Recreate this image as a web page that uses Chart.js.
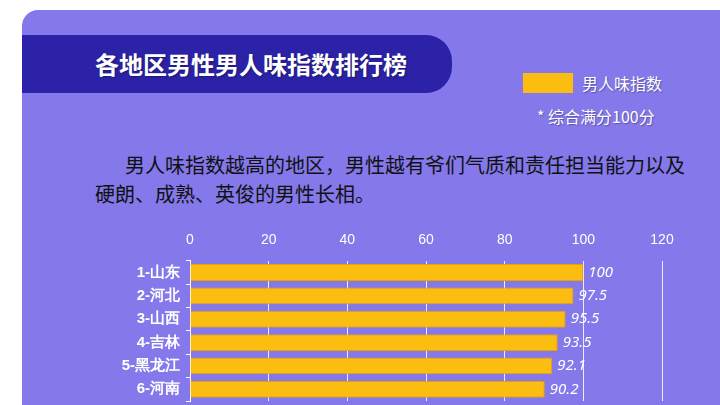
<!DOCTYPE html>
<html>
<head>
<meta charset="utf-8">
<script src="https://cdn.jsdelivr.net/npm/chart.js@4"></script>
<style>
  body { margin: 0; width: 720px; height: 405px; background: #fff; overflow: hidden; font-family: "Noto Sans CJK SC", sans-serif; }
  .panel { position: absolute; left: 22px; top: 10px; width: 720px; height: 420px; background: #8478ea; border-radius: 16px 0 0 0; }
  .banner { position: absolute; left: 22px; top: 35px; width: 430px; height: 58px; background: #2b22a8; border-radius: 0 26px 26px 0; }
  .title { position: absolute; left: 95px; top: 46px; color: #fff; font-size: 24px; font-weight: bold; text-shadow: 1px 1px 2px rgba(0,0,0,.35); }
  .legbox { position: absolute; left: 523px; top: 73px; width: 50px; height: 20px; background: #fbbd0f; }
  .legtxt { position: absolute; left: 582px; top: 71px; color: #fff; font-size: 16px; text-shadow: 1px 1px 1px rgba(0,0,0,.3); }
  .note { position: absolute; left: 537px; top: 104px; color: #fff; font-size: 16px; text-shadow: 1px 1px 1px rgba(0,0,0,.3); }
  .desc { position: absolute; left: 95px; top: 150px; width: 640px; color: #111; font-size: 20px; line-height: 29px; }
  #wrap { position: absolute; left: 0; top: 220px; width: 720px; height: 196px; }
</style>
</head>
<body>
<div class="panel"></div>
<div class="banner"></div>
<div class="title">各地区男性男人味指数排行榜</div>
<div class="legbox"></div>
<div class="legtxt">男人味指数</div>
<div class="note">* 综合满分100分</div>
<div class="desc">&ensp;&ensp;&ensp;男人味指数越高的地区，男性越有爷们气质和责任担当能力以及<br>硬朗、成熟、英俊的男性长相。</div>
<div id="wrap"><canvas id="chart"></canvas></div>
<script>
const regions = ['1-山东', '2-河北', '3-山西', '4-吉林', '5-黑龙江', '6-河南'];
const scores = [100, 97.5, 95.5, 93.5, 92.1, 90.2];
const xTicks = [0, 20, 40, 60, 80, 100, 120];

const valueLabels = {
    id: 'valueLabels',
    afterDatasetsDraw(chart) {
        const ctx = chart.ctx;
        const meta = chart.getDatasetMeta(0);
        ctx.save();
        ctx.font = 'italic 15px "Noto Sans", sans-serif';
        ctx.fillStyle = '#fff';
        ctx.textBaseline = 'middle';
        meta.data.forEach((bar, i) => {
            ctx.fillText(String(scores[i]), bar.x + 5, bar.y);
        });
        ctx.restore();
    }
};

new Chart(document.getElementById('chart'), {
    type: 'bar',
    data: {
        labels: regions,
        datasets: [{
            label: '男人味指数',
            data: scores,
            backgroundColor: '#fbbd0f',
            borderColor: '#e8a200',
            borderWidth: 1,
            categoryPercentage: 0.72,
            barPercentage: 1
        }]
    },
    options: {
        indexAxis: 'y',
        responsive: true,
        maintainAspectRatio: false,
        animation: false,
        layout: { padding: { left: 0, right: 58, top: 0, bottom: 10 } },
        plugins: { legend: { display: false }, tooltip: { enabled: false } },
        scales: {
            x: {
                position: 'top',
                min: 0, max: 120,
                afterBuildTicks(axis) { axis.ticks = xTicks.map(v => ({ value: v })); },
                grid: { color: 'rgba(255,255,255,0.85)', drawTicks: false, lineWidth: 1 },
                border: { display: false },
                ticks: { color: '#fff', font: { size: 14 }, padding: 12 }
            },
            y: {
                grid: { display: true, drawOnChartArea: false, color: '#fff', tickLength: 4 },
                border: { color: '#fff' },
                ticks: { color: '#fff', font: { size: 15, weight: 'bold' }, padding: 6, autoSkip: false },
                afterFit(axis) { axis.width = 190; }
            }
        }
    },
    plugins: [valueLabels]
});
</script>
</body>
</html>
